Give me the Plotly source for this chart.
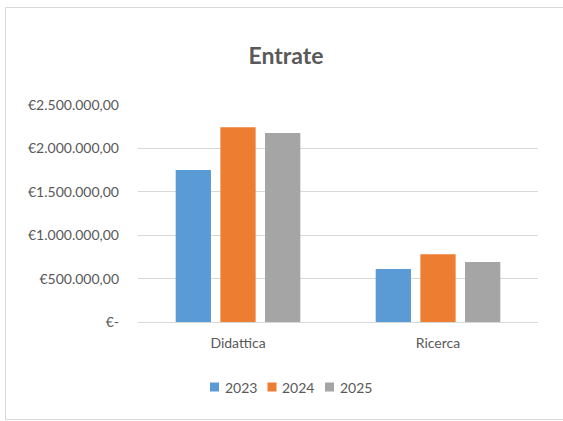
import plotly.graph_objects as go

categories = ["Didattica", "Ricerca"]
years = ["2023", "2024", "2025"]
values_2023 = [1750000, 612000]
values_2024 = [2243000, 780000]
values_2025 = [2178000, 692000]
colors = ["#5B9BD5", "#ED7D31", "#A5A5A5"]
tick_vals = [0, 500000, 1000000, 1500000, 2000000, 2500000]
tick_text = ["€-", "€500.000,00", "€1.000.000,00", "€1.500.000,00", "€2.000.000,00", "€2.500.000,00"]

font_family = "Lato, 'Open Sans', sans-serif"
fig = go.Figure()
for name, vals, col in zip(years, [values_2023, values_2024, values_2025], colors):
    fig.add_trace(go.Bar(x=categories, y=vals, name=name, showlegend=False,
                         marker=dict(color=col, line=dict(width=0))))

W, H = 563, 421
L, R, T, B = 138, 25, 105, 99
pw, ph = W - L - R, H - T - B

def px(x):
    return (x - L) / pw

def py(y):
    return (H - B - y) / ph

# chart frame: left, top and bottom edges (right edge lies outside the picture)
frame = dict(xref="paper", yref="paper", line=dict(color="#d9d9d9", width=1), layer="below")
shapes = [
    dict(type="line", x0=px(5.5), x1=px(5.5), y0=py(419.5), y1=py(7.5), **frame),
    dict(type="line", x0=px(5.5), x1=px(W), y0=py(7.5), y1=py(7.5), **frame),
    dict(type="line", x0=px(5.5), x1=px(W), y0=py(419.5), y1=py(419.5), **frame),
]

# custom legend (squares + labels) laid out like the original
legend_square_x = [210, 267.5, 325]
legend_y = 387
sq = 9
annotations = []
for name, col, sx in zip(years, colors, legend_square_x):
    shapes.append(dict(type="rect", xref="paper", yref="paper",
                       x0=px(sx), x1=px(sx + sq), y0=py(legend_y + sq / 2), y1=py(legend_y - sq / 2),
                       line=dict(width=0), fillcolor=col))
    annotations.append(dict(text=name, xref="paper", yref="paper", x=px(sx + sq + 3.5), y=py(legend_y),
                            xanchor="left", yanchor="middle", showarrow=False,
                            font=dict(size=14, color="#595959", family=font_family)))

fig.update_layout(
    width=W, height=H,
    margin=dict(l=L, r=R, t=T, b=B),
    paper_bgcolor="white", plot_bgcolor="white",
    barmode="group", bargap=0.33, bargroupgap=0.21,
    font=dict(family=font_family, color="#595959", size=14),
    title=dict(text="<b>Entrate</b>", x=286 / W, xanchor="center", xref="container",
               y=1 - 56 / H, yanchor="middle", yref="container",
               font=dict(size=23, color="#595959", family=font_family)),
    xaxis=dict(showgrid=False, showline=True, linecolor="#d9d9d9", linewidth=1,
               ticks="", tickfont=dict(size=14, color="#595959"), ticklabelstandoff=8),
    yaxis=dict(range=[0, 2500000], tickvals=tick_vals, ticktext=tick_text,
               showgrid=True, gridcolor="#d9d9d9", gridwidth=1, zeroline=False,
               showline=False, ticks="", tickfont=dict(size=14, color="#595959"),
               ticklabelstandoff=18),
    showlegend=False,
    shapes=shapes,
    annotations=annotations,
)

fig.write_html("out.html", config={"displayModeBar": False},
               post_script="document.body.style.margin='0px';")
